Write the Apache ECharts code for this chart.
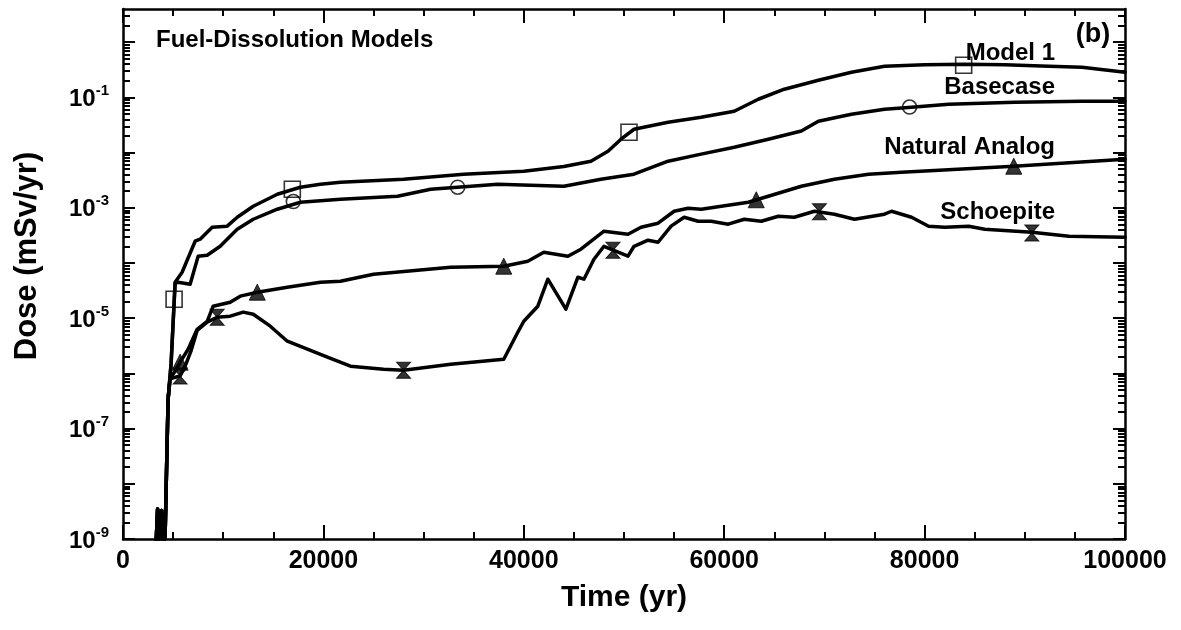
<!DOCTYPE html>
<html><head><meta charset="utf-8">
<script src="https://cdn.jsdelivr.net/npm/echarts@6/dist/echarts.min.js"></script>
<style>html,body{margin:0;padding:0;background:#fff}#c{width:1181px;height:630px}</style>
</head><body><div id="c"></div>
<script>
// ---- data (time in yr, dose in mSv/yr) ----
const startBlob = [[3300,8e-10],[3450,3.5e-9],[3650,1.0e-9],[3850,3.3e-9],[4050,9e-10],[4200,1.1e-9],[4500,3.4e-7]];

const model1 = [[4800,1.5e-6],[5200,4.5e-5],[5900,6.8e-5],[7200,2.48e-4],[7700,2.70e-4],[8900,4.46e-4],[10400,4.65e-4],[11400,6.76e-4],[13000,1.07e-3],[15400,1.76e-3],[17700,2.36e-3],[19700,2.68e-3],[21700,2.91e-3],[28000,3.30e-3],[34000,4.06e-3],[40000,4.60e-3],[44000,5.6e-3],[46700,7.0e-3],[48400,1.06e-2],[49700,1.75e-2],[51000,2.65e-2],[54400,3.56e-2],[57700,4.38e-2],[61000,5.62e-2],[63400,9.27e-2],[66000,0.141],[69400,0.205],[72700,0.286],[76000,0.367],[80000,0.39],[84000,0.40],[88000,0.39],[92400,0.367],[95700,0.352],[100000,0.286]];

const basecase = [[4800,1.5e-6],[5200,4.3e-5],[5500,4.5e-5],[6700,4.13e-5],[7500,1.33e-4],[8400,1.38e-4],[9700,2.01e-4],[11400,4.10e-4],[13000,6.21e-4],[15400,9.44e-4],[17700,1.26e-3],[21700,1.43e-3],[27400,1.62e-3],[30700,2.17e-3],[37400,2.68e-3],[44000,2.46e-3],[47700,3.30e-3],[51000,4.06e-3],[54400,7.0e-3],[57700,9.4e-3],[61000,1.25e-2],[64400,1.75e-2],[67700,2.46e-2],[69400,3.71e-2],[72700,4.96e-2],[76000,6.11e-2],[78700,6.65e-2],[82400,7.53e-2],[89000,8.18e-2],[95700,8.53e-2],[100000,8.53e-2]];

const naturalAnalog = [[4700,8e-7],[5200,1.1e-6],[5700,1.6e-6],[6500,2.74e-6],[7400,6.3e-6],[8400,8.8e-6],[9000,1.65e-5],[10700,1.95e-5],[11700,2.51e-5],[13400,2.96e-5],[16400,3.65e-5],[19700,4.49e-5],[21700,4.68e-5],[25000,6.27e-5],[32700,8.39e-5],[38000,8.75e-5],[40400,1.08e-4],[42000,1.57e-4],[44400,1.33e-4],[45700,1.78e-4],[48000,3.77e-4],[50400,3.33e-4],[51700,4.46e-4],[53400,5.26e-4],[55000,8.67e-4],[56400,9.84e-4],[57700,9.44e-4],[62400,1.26e-3],[64400,1.62e-3],[67700,2.46e-3],[71000,3.30e-3],[74400,4.06e-3],[77700,4.42e-3],[88900,5.67e-3],[100000,7.6e-3]];

const schoepite = [[4700,8e-7],[5700,9e-7],[6300,1.5e-6],[6800,2.6e-6],[7400,6.0e-6],[8400,8.5e-6],[9400,1.04e-5],[10700,1.09e-5],[12000,1.29e-5],[13000,1.18e-5],[14700,7.17e-6],[16400,3.83e-6],[18400,2.74e-6],[20400,1.97e-6],[22700,1.35e-6],[26000,1.19e-6],[28000,1.14e-6],[32700,1.47e-6],[38000,1.81e-6],[39400,5.57e-6],[40000,8.82e-6],[41400,1.65e-5],[42400,5.09e-5],[44200,1.46e-5],[45400,5.53e-5],[46000,5.09e-5],[47000,1.17e-4],[48000,2.01e-4],[50400,1.33e-4],[51000,2.01e-4],[52400,2.59e-4],[53400,2.38e-4],[54700,4.65e-4],[56000,6.76e-4],[57400,5.72e-4],[58700,5.72e-4],[60400,5.05e-4],[62000,6.21e-4],[63700,5.72e-4],[65400,7.05e-4],[67000,6.76e-4],[69000,8.67e-4],[71000,7.66e-4],[73000,6.21e-4],[76000,7.66e-4],[76700,8.67e-4],[78700,6.76e-4],[80400,4.65e-4],[82000,4.46e-4],[84400,4.65e-4],[86000,4.10e-4],[90700,3.61e-4],[94400,3.06e-4],[100000,2.93e-4]];

const model1Marks = [[5100,2.2e-5],[16900,2.17e-3],[50500,2.34e-2],[83900,0.383]];
const basecaseMarks = [[17000,1.3e-3],[33400,2.36e-3],[78500,6.7e-2]];
const naturalAnalogMarks = [[5700,1.6e-6],[13400,2.96e-5],[38000,8.75e-5],[63200,1.4e-3],[88900,5.67e-3]];
const schoepiteMarks = [[5700,9e-7],[9400,1.04e-5],[28000,1.14e-6],[48900,1.7e-4],[69500,8.5e-4],[90700,3.5e-4]];

const xTickValues = [0,20000,40000,60000,80000,100000];
const yLabelValues = [1e-9,1e-7,1e-5,1e-3,1e-1];
const yMajorTicks = [1e-9,1e-8,1e-7,1e-6,1e-5,1e-4,1e-3,1e-2,1e-1,1];
const seriesLabels = ['Model 1','Basecase','Natural Analog','Schoepite'];
const titleText = 'Fuel-Dissolution Models';
const panelText = '(b)';
const xName = 'Time (yr)';
const yName = 'Dose (mSv/yr)';

// minor log ticks (2..9 within each decade)
const yMinorTicks = [];
yMajorTicks.forEach(d => { for (let k = 2; k <= 9; k++) { const v = d * k; if (v < 4) yMinorTicks.push(v); } });

const FONT = '"Liberation Sans", Arial, Helvetica, sans-serif';
const BLACK = '#000';

function yAxisDef(pos, ticks, len, showLine, labels) {
  return {
    type: 'log', logBase: 10, min: 1e-9, max: 4, position: pos,
    axisLine: { show: showLine, onZero: false, lineStyle: { color: BLACK, width: 2.5 } },
    axisTick: { show: true, inside: true, length: len, customValues: ticks, lineStyle: { color: BLACK, width: 2 } },
    minorTick: { show: false },
    splitLine: { show: false },
    axisLabel: labels ? {
      show: true, customValues: yLabelValues, margin: 14,
      formatter: v => '{b|10}{s|' + Math.round(Math.log10(v)) + '}',
      rich: {
        b: { fontFamily: FONT, fontWeight: 'bold', fontSize: 24, color: BLACK, lineHeight: 28, verticalAlign: 'bottom' },
        s: { fontFamily: FONT, fontWeight: 'bold', fontSize: 15, color: BLACK, lineHeight: 15, verticalAlign: 'top' }
      }
    } : { show: false }
  };
}

function xAxisDef(pos, labels) {
  return {
    type: 'value', min: 0, max: 100000, interval: 20000, position: pos,
    name: labels ? xName : '', nameLocation: 'middle', nameGap: 44,
    nameTextStyle: { fontFamily: FONT, fontWeight: 'bold', fontSize: 30, color: BLACK },
    axisLine: { show: true, onZero: false, lineStyle: { color: BLACK, width: 2.5 } },
    axisTick: { show: true, inside: true, length: 14, lineStyle: { color: BLACK, width: 2 } },
    minorTick: { show: true, splitNumber: 4, length: 7, lineStyle: { color: BLACK, width: 2 } },
    splitLine: { show: false },
    axisLabel: labels ? {
      show: true, margin: 10, customValues: xTickValues,
      fontFamily: FONT, fontWeight: 'bold', fontSize: 25, color: BLACK,
      formatter: v => String(v)
    } : { show: false }
  };
}

function lineSeries(name, pts) {
  return {
    name, type: 'line', data: startBlob.concat(pts), showSymbol: false, symbol: 'none',
    smooth: false, clip: true, z: 3,
    lineStyle: { color: BLACK, width: 3.5, join: 'round', cap: 'round' }
  };
}
function markSeries(pts, symbol, size, filled) {
  return {
    type: 'scatter', data: pts, symbol, symbolSize: size, z: 5, clip: false,
    itemStyle: filled ? { color: BLACK, borderColor: BLACK, borderWidth: 1 } : { color: 'rgba(0,0,0,0)', borderColor: BLACK, borderWidth: 1.6 }
  };
}

const chart = echarts.init(document.getElementById('c'), null, { renderer: 'canvas' });
chart.setOption({
  animation: false,
  backgroundColor: '#fff',
  grid: { left: 123, right: 56, top: 9, bottom: 91, containLabel: false },
  xAxis: [xAxisDef('bottom', true), xAxisDef('top', false)],
  yAxis: [
    yAxisDef('left', yMajorTicks, 12, true, true),
    yAxisDef('left', yMinorTicks, 7, false, false),
    yAxisDef('right', yMajorTicks, 12, true, false),
    yAxisDef('right', yMinorTicks, 7, false, false)
  ],
  series: [
    lineSeries(seriesLabels[0], model1),
    lineSeries(seriesLabels[1], basecase),
    lineSeries(seriesLabels[2], naturalAnalog),
    lineSeries(seriesLabels[3], schoepite),
    markSeries(model1Marks, 'rect', 16, false),
    markSeries(basecaseMarks, 'circle', 14, false),
    markSeries(naturalAnalogMarks, 'triangle', 16, true),
    markSeries(schoepiteMarks, 'path://M0,0 L12,0 L0,14 L12,14 Z', [14, 16], true)
  ],
  graphic: [
    { type: 'text', x: 27, y: 256, rotation: Math.PI / 2, style: { text: yName, font: 'bold 31px ' + FONT, fill: BLACK, align: 'center', verticalAlign: 'middle' } },
    { type: 'text', left: 156, top: 28, style: { text: titleText, font: 'bold 24px ' + FONT, fill: BLACK } },
    { type: 'text', x: 1093, y: 35, style: { text: panelText, font: 'bold 27px ' + FONT, fill: BLACK, align: 'center', verticalAlign: 'middle' } },
    { type: 'text', x: 1055, y: 53, style: { text: seriesLabels[0], font: 'bold 24px ' + FONT, fill: BLACK, align: 'right', verticalAlign: 'middle' } },
    { type: 'text', x: 1055, y: 87, style: { text: seriesLabels[1], font: 'bold 24px ' + FONT, fill: BLACK, align: 'right', verticalAlign: 'middle' } },
    { type: 'text', x: 1055, y: 147, style: { text: seriesLabels[2], font: 'bold 24px ' + FONT, fill: BLACK, align: 'right', verticalAlign: 'middle' } },
    { type: 'text', x: 1055, y: 212, style: { text: seriesLabels[3], font: 'bold 24px ' + FONT, fill: BLACK, align: 'right', verticalAlign: 'middle' } }
  ]
});
</script></body></html>
